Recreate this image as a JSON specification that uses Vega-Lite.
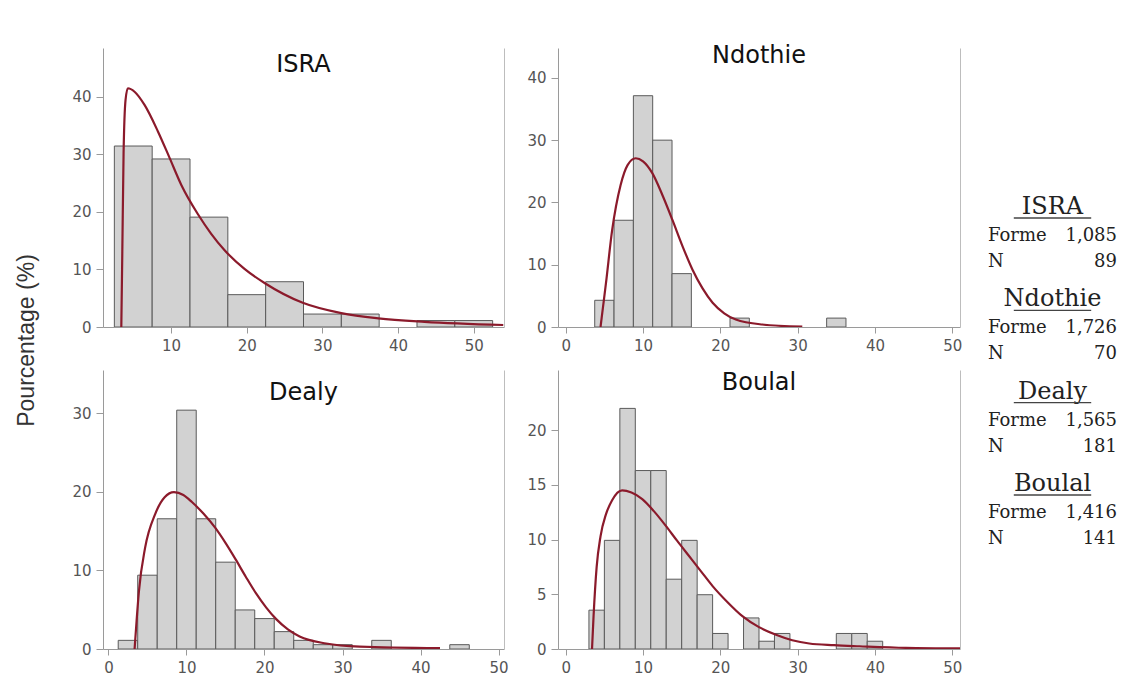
{
  "$schema": "https://vega.github.io/schema/vega-lite/v6.json",
  "background": "white",
  "padding": {"left": 15, "top": 44, "right": 5, "bottom": 5},
  "config": {
    "view": {"stroke": null},
    "axis": {"grid": false, "domainColor": "#9a9a9a", "tickColor": "#9a9a9a", "labelColor": "#555555", "labelFont": "DejaVu Sans", "labelFontSize": 15, "tickSize": 6, "labelPadding": 5, "title": null},
    "title": {"font": "DejaVu Sans", "fontSize": 24, "fontWeight": "normal", "color": "#111111", "baseline": "alphabetic", "anchor": "middle"}
  },
  "datasets": {
    "bars": [
      {"site": "ISRA", "b0": 2.5, "b1": 7.5, "pct": 31.46},
      {"site": "ISRA", "b0": 7.5, "b1": 12.5, "pct": 29.21},
      {"site": "ISRA", "b0": 12.5, "b1": 17.5, "pct": 19.10},
      {"site": "ISRA", "b0": 17.5, "b1": 22.5, "pct": 5.62},
      {"site": "ISRA", "b0": 22.5, "b1": 27.5, "pct": 7.87},
      {"site": "ISRA", "b0": 27.5, "b1": 32.5, "pct": 2.25},
      {"site": "ISRA", "b0": 32.5, "b1": 37.5, "pct": 2.25},
      {"site": "ISRA", "b0": 42.5, "b1": 47.5, "pct": 1.12},
      {"site": "ISRA", "b0": 47.5, "b1": 52.5, "pct": 1.12},
      {"site": "Ndothie", "b0": 3.75, "b1": 6.25, "pct": 4.29},
      {"site": "Ndothie", "b0": 6.25, "b1": 8.75, "pct": 17.14},
      {"site": "Ndothie", "b0": 8.75, "b1": 11.25, "pct": 37.14},
      {"site": "Ndothie", "b0": 11.25, "b1": 13.75, "pct": 30.0},
      {"site": "Ndothie", "b0": 13.75, "b1": 16.25, "pct": 8.57},
      {"site": "Ndothie", "b0": 21.25, "b1": 23.75, "pct": 1.43},
      {"site": "Ndothie", "b0": 33.75, "b1": 36.25, "pct": 1.43},
      {"site": "Dealy", "b0": 1.25, "b1": 3.75, "pct": 1.10},
      {"site": "Dealy", "b0": 3.75, "b1": 6.25, "pct": 9.39},
      {"site": "Dealy", "b0": 6.25, "b1": 8.75, "pct": 16.57},
      {"site": "Dealy", "b0": 8.75, "b1": 11.25, "pct": 30.39},
      {"site": "Dealy", "b0": 11.25, "b1": 13.75, "pct": 16.57},
      {"site": "Dealy", "b0": 13.75, "b1": 16.25, "pct": 11.05},
      {"site": "Dealy", "b0": 16.25, "b1": 18.75, "pct": 4.97},
      {"site": "Dealy", "b0": 18.75, "b1": 21.25, "pct": 3.87},
      {"site": "Dealy", "b0": 21.25, "b1": 23.75, "pct": 2.21},
      {"site": "Dealy", "b0": 23.75, "b1": 26.25, "pct": 1.10},
      {"site": "Dealy", "b0": 26.25, "b1": 28.75, "pct": 0.55},
      {"site": "Dealy", "b0": 28.75, "b1": 31.25, "pct": 0.55},
      {"site": "Dealy", "b0": 33.75, "b1": 36.25, "pct": 1.10},
      {"site": "Dealy", "b0": 43.75, "b1": 46.25, "pct": 0.55},
      {"site": "Boulal", "b0": 3, "b1": 5, "pct": 3.55},
      {"site": "Boulal", "b0": 5, "b1": 7, "pct": 9.93},
      {"site": "Boulal", "b0": 7, "b1": 9, "pct": 21.99},
      {"site": "Boulal", "b0": 9, "b1": 11, "pct": 16.31},
      {"site": "Boulal", "b0": 11, "b1": 13, "pct": 16.31},
      {"site": "Boulal", "b0": 13, "b1": 15, "pct": 6.38},
      {"site": "Boulal", "b0": 15, "b1": 17, "pct": 9.93},
      {"site": "Boulal", "b0": 17, "b1": 19, "pct": 4.96},
      {"site": "Boulal", "b0": 19, "b1": 21, "pct": 1.42},
      {"site": "Boulal", "b0": 23, "b1": 25, "pct": 2.84},
      {"site": "Boulal", "b0": 25, "b1": 27, "pct": 0.71},
      {"site": "Boulal", "b0": 27, "b1": 29, "pct": 1.42},
      {"site": "Boulal", "b0": 35, "b1": 37, "pct": 1.42},
      {"site": "Boulal", "b0": 37, "b1": 39, "pct": 1.42},
      {"site": "Boulal", "b0": 39, "b1": 41, "pct": 0.71}
    ],
    "curves": [
      {"site": "ISRA", "x": 3.42, "y": 0},
      {"site": "ISRA", "x": 3.55, "y": 12.8},
      {"site": "ISRA", "x": 3.72, "y": 30.2},
      {"site": "ISRA", "x": 3.98, "y": 39.5},
      {"site": "ISRA", "x": 4.29, "y": 41.5},
      {"site": "ISRA", "x": 5.17, "y": 40.9},
      {"site": "ISRA", "x": 6.49, "y": 38.6},
      {"site": "ISRA", "x": 8.26, "y": 34.0},
      {"site": "ISRA", "x": 9.8, "y": 29.4},
      {"site": "ISRA", "x": 11.35, "y": 24.7},
      {"site": "ISRA", "x": 13.55, "y": 19.6},
      {"site": "ISRA", "x": 15.3, "y": 16.2},
      {"site": "ISRA", "x": 17.1, "y": 13.3},
      {"site": "ISRA", "x": 19.7, "y": 10.1},
      {"site": "ISRA", "x": 22.4, "y": 7.6},
      {"site": "ISRA", "x": 27.4, "y": 4.2},
      {"site": "ISRA", "x": 32.5, "y": 2.4},
      {"site": "ISRA", "x": 37.4, "y": 1.5},
      {"site": "ISRA", "x": 43.5, "y": 0.9},
      {"site": "ISRA", "x": 53.9, "y": 0.35},
      {"site": "Ndothie", "x": 4.5, "y": 0},
      {"site": "Ndothie", "x": 4.8, "y": 3.0},
      {"site": "Ndothie", "x": 5.2, "y": 7.0},
      {"site": "Ndothie", "x": 6.0, "y": 15.5},
      {"site": "Ndothie", "x": 7.1, "y": 22.8},
      {"site": "Ndothie", "x": 8.0, "y": 26.0},
      {"site": "Ndothie", "x": 9.05, "y": 27.1},
      {"site": "Ndothie", "x": 10.0, "y": 26.6},
      {"site": "Ndothie", "x": 11.2, "y": 24.7},
      {"site": "Ndothie", "x": 12.5, "y": 21.2},
      {"site": "Ndothie", "x": 13.8, "y": 17.2},
      {"site": "Ndothie", "x": 15.1, "y": 13.0},
      {"site": "Ndothie", "x": 16.4, "y": 9.2},
      {"site": "Ndothie", "x": 17.7, "y": 6.2},
      {"site": "Ndothie", "x": 19.0, "y": 3.9},
      {"site": "Ndothie", "x": 20.5, "y": 2.2},
      {"site": "Ndothie", "x": 22.0, "y": 1.2},
      {"site": "Ndothie", "x": 25.4, "y": 0.4},
      {"site": "Ndothie", "x": 30.6, "y": 0.05},
      {"site": "Dealy", "x": 3.35, "y": 0},
      {"site": "Dealy", "x": 3.6, "y": 3.5},
      {"site": "Dealy", "x": 3.9, "y": 7.3},
      {"site": "Dealy", "x": 4.7, "y": 12.9},
      {"site": "Dealy", "x": 6.0, "y": 17.2},
      {"site": "Dealy", "x": 7.2, "y": 19.3},
      {"site": "Dealy", "x": 8.4, "y": 19.95},
      {"site": "Dealy", "x": 9.6, "y": 19.6},
      {"site": "Dealy", "x": 10.7, "y": 18.7},
      {"site": "Dealy", "x": 12.2, "y": 17.2},
      {"site": "Dealy", "x": 13.7, "y": 15.4},
      {"site": "Dealy", "x": 15.0, "y": 13.5},
      {"site": "Dealy", "x": 16.3, "y": 11.4},
      {"site": "Dealy", "x": 17.6, "y": 9.2},
      {"site": "Dealy", "x": 18.9, "y": 7.1},
      {"site": "Dealy", "x": 20.2, "y": 5.3},
      {"site": "Dealy", "x": 21.5, "y": 3.8},
      {"site": "Dealy", "x": 23.0, "y": 2.5},
      {"site": "Dealy", "x": 24.5, "y": 1.6},
      {"site": "Dealy", "x": 27.9, "y": 0.7},
      {"site": "Dealy", "x": 32.2, "y": 0.3},
      {"site": "Dealy", "x": 42.5, "y": 0.1},
      {"site": "Boulal", "x": 3.4, "y": 0},
      {"site": "Boulal", "x": 3.6, "y": 3.0},
      {"site": "Boulal", "x": 4.0, "y": 7.5},
      {"site": "Boulal", "x": 4.5, "y": 10.3},
      {"site": "Boulal", "x": 5.2, "y": 12.3},
      {"site": "Boulal", "x": 6.0, "y": 13.6},
      {"site": "Boulal", "x": 7.3, "y": 14.5},
      {"site": "Boulal", "x": 8.5, "y": 14.3},
      {"site": "Boulal", "x": 9.9, "y": 13.7},
      {"site": "Boulal", "x": 11.4, "y": 12.6},
      {"site": "Boulal", "x": 12.9, "y": 11.3},
      {"site": "Boulal", "x": 14.4, "y": 9.9},
      {"site": "Boulal", "x": 15.95, "y": 8.5},
      {"site": "Boulal", "x": 17.5, "y": 7.1},
      {"site": "Boulal", "x": 19.0, "y": 5.75},
      {"site": "Boulal", "x": 20.9, "y": 4.3},
      {"site": "Boulal", "x": 22.85, "y": 3.0},
      {"site": "Boulal", "x": 25.0, "y": 2.0},
      {"site": "Boulal", "x": 27.2, "y": 1.3},
      {"site": "Boulal", "x": 29.3, "y": 0.8},
      {"site": "Boulal", "x": 31.5, "y": 0.5},
      {"site": "Boulal", "x": 34.7, "y": 0.35},
      {"site": "Boulal", "x": 38.0, "y": 0.25},
      {"site": "Boulal", "x": 44.0, "y": 0.1},
      {"site": "Boulal", "x": 51.0, "y": 0.05}
    ],
    "legend": [
      {"site": "ISRA", "forme": "1,085", "n": "89"},
      {"site": "Ndothie", "forme": "1,726", "n": "70"},
      {"site": "Dealy", "forme": "1,565", "n": "181"},
      {"site": "Boulal", "forme": "1,416", "n": "141"}
    ]
  },
  "hconcat": [
    {
      "concat": [
        {
          "width": 401, "height": 279,
          "title": {"text": "ISRA", "offset": -29},
          "layer": [
            {
              "data": {"name": "bars"},
              "transform": [{"filter": "datum.site === 'ISRA'"}],
              "mark": {"type": "bar", "fill": "#d2d2d2", "stroke": "#5a5a5a", "strokeWidth": 1, "clip": true},
              "encoding": {
                "x": {"field": "b0", "type": "quantitative", "scale": {"domain": [1, 54], "nice": false, "zero": false}, "axis": {"values": [10, 20, 30, 40, 50]}},
                "x2": {"field": "b1"},
                "y": {"field": "pct", "type": "quantitative", "scale": {"domain": [0, 48.5], "nice": false}, "axis": {"values": [0, 10, 20, 30, 40], "tickSize": 7, "title": "Pourcentage (%)", "titleX": -77, "titleY": 292, "titleAngle": -90, "titleBaseline": "middle", "titleAlign": "center", "titleFont": "Liberation Sans", "titleFontSize": 23, "titleFontWeight": "normal", "titleColor": "#333333"}},
                "y2": {"datum": 0}
              }
            },
            {
              "data": {"name": "curves"},
              "transform": [{"filter": "datum.site === 'ISRA'"}],
              "mark": {"type": "line", "color": "#8b1a2b", "strokeWidth": 2.2, "interpolate": "monotone", "clip": true},
              "encoding": {
                "x": {"field": "x", "type": "quantitative"},
                "y": {"field": "y", "type": "quantitative", "axis": {"orient": "right", "labels": false, "ticks": false, "title": null, "domainColor": "#bdbdbd"}}
              }
            }
          ],
          "resolve": {"axis": {"y": "independent"}}
        },
        {
          "width": 402, "height": 279,
          "title": {"text": "Ndothie", "offset": -20},
          "layer": [
            {
              "data": {"name": "bars"},
              "transform": [{"filter": "datum.site === 'Ndothie'"}],
              "mark": {"type": "bar", "fill": "#d2d2d2", "stroke": "#5a5a5a", "strokeWidth": 1, "clip": true},
              "encoding": {
                "x": {"field": "b0", "type": "quantitative", "scale": {"domain": [-1, 51], "nice": false, "zero": false}, "axis": {"values": [0, 10, 20, 30, 40, 50]}},
                "x2": {"field": "b1"},
                "y": {"field": "pct", "type": "quantitative", "scale": {"domain": [0, 44.8], "nice": false}, "axis": {"values": [0, 10, 20, 30, 40], "tickSize": 7}},
                "y2": {"datum": 0}
              }
            },
            {
              "data": {"name": "curves"},
              "transform": [{"filter": "datum.site === 'Ndothie'"}],
              "mark": {"type": "line", "color": "#8b1a2b", "strokeWidth": 2.2, "interpolate": "monotone", "clip": true},
              "encoding": {
                "x": {"field": "x", "type": "quantitative"},
                "y": {"field": "y", "type": "quantitative", "axis": {"orient": "right", "labels": false, "ticks": false, "title": null, "domainColor": "#bdbdbd"}}
              }
            }
          ],
          "resolve": {"axis": {"y": "independent"}}
        },
        {
          "width": 401, "height": 279,
          "title": {"text": "Dealy", "offset": -35},
          "layer": [
            {
              "data": {"name": "bars"},
              "transform": [{"filter": "datum.site === 'Dealy'"}],
              "mark": {"type": "bar", "fill": "#d2d2d2", "stroke": "#5a5a5a", "strokeWidth": 1, "clip": true},
              "encoding": {
                "x": {"field": "b0", "type": "quantitative", "scale": {"domain": [-0.7, 50.7], "nice": false, "zero": false}, "axis": {"values": [0, 10, 20, 30, 40, 50]}},
                "x2": {"field": "b1"},
                "y": {"field": "pct", "type": "quantitative", "scale": {"domain": [0, 35.5], "nice": false}, "axis": {"values": [0, 10, 20, 30], "tickSize": 7}},
                "y2": {"datum": 0}
              }
            },
            {
              "data": {"name": "curves"},
              "transform": [{"filter": "datum.site === 'Dealy'"}],
              "mark": {"type": "line", "color": "#8b1a2b", "strokeWidth": 2.2, "interpolate": "monotone", "clip": true},
              "encoding": {
                "x": {"field": "x", "type": "quantitative"},
                "y": {"field": "y", "type": "quantitative", "axis": {"orient": "right", "labels": false, "ticks": false, "title": null, "domainColor": "#bdbdbd"}}
              }
            }
          ],
          "resolve": {"axis": {"y": "independent"}}
        },
        {
          "width": 402, "height": 279,
          "title": {"text": "Boulal", "offset": -25},
          "layer": [
            {
              "data": {"name": "bars"},
              "transform": [{"filter": "datum.site === 'Boulal'"}],
              "mark": {"type": "bar", "fill": "#d2d2d2", "stroke": "#5a5a5a", "strokeWidth": 1, "clip": true},
              "encoding": {
                "x": {"field": "b0", "type": "quantitative", "scale": {"domain": [-1, 51], "nice": false, "zero": false}, "axis": {"values": [0, 10, 20, 30, 40, 50]}},
                "x2": {"field": "b1"},
                "y": {"field": "pct", "type": "quantitative", "scale": {"domain": [0, 25.5], "nice": false}, "axis": {"values": [0, 5, 10, 15, 20], "tickSize": 7}},
                "y2": {"datum": 0}
              }
            },
            {
              "data": {"name": "curves"},
              "transform": [{"filter": "datum.site === 'Boulal'"}],
              "mark": {"type": "line", "color": "#8b1a2b", "strokeWidth": 2.2, "interpolate": "monotone", "clip": true},
              "encoding": {
                "x": {"field": "x", "type": "quantitative"},
                "y": {"field": "y", "type": "quantitative", "axis": {"orient": "right", "labels": false, "ticks": false, "title": null, "domainColor": "#bdbdbd"}}
              }
            }
          ],
          "resolve": {"axis": {"y": "independent"}}
        }
      ],
      "columns": 2,
      "spacing": {"row": 43, "column": 54},
      "bounds": "flush"
    },
    {
      "width": 129, "height": 500,
      "data": {"name": "legend"},
      "encoding": {
        "y": {"field": "site", "type": "nominal", "sort": ["ISRA", "Ndothie", "Dealy", "Boulal"], "scale": {"type": "point", "range": [159, 436], "padding": 0}, "axis": null}
      },
      "layer": [
        {
          "mark": {"type": "text", "font": "DejaVu Serif", "fontSize": 24, "align": "center", "baseline": "middle", "color": "#222222"},
          "encoding": {"x": {"datum": 0.5, "type": "quantitative", "scale": {"domain": [0, 1]}, "axis": null}, "text": {"field": "site"}}
        },
        {
          "mark": {"type": "rule", "color": "#444444", "strokeWidth": 1.3, "yOffset": 11},
          "encoding": {"x": {"datum": 0.2, "type": "quantitative"}, "x2": {"datum": 0.8}}
        },
        {
          "mark": {"type": "text", "font": "DejaVu Serif", "fontSize": 18, "align": "left", "baseline": "middle", "dy": 29, "color": "#222222"},
          "encoding": {"x": {"datum": 0, "type": "quantitative"}, "text": {"value": "Forme"}}
        },
        {
          "mark": {"type": "text", "font": "DejaVu Serif", "fontSize": 18, "align": "right", "baseline": "middle", "dy": 29, "color": "#222222"},
          "encoding": {"x": {"datum": 1, "type": "quantitative"}, "text": {"field": "forme"}}
        },
        {
          "mark": {"type": "text", "font": "DejaVu Serif", "fontSize": 18, "align": "left", "baseline": "middle", "dy": 55, "color": "#222222"},
          "encoding": {"x": {"datum": 0, "type": "quantitative"}, "text": {"value": "N"}}
        },
        {
          "mark": {"type": "text", "font": "DejaVu Serif", "fontSize": 18, "align": "right", "baseline": "middle", "dy": 55, "color": "#222222"},
          "encoding": {"x": {"datum": 1, "type": "quantitative"}, "text": {"field": "n"}}
        }
      ]
    }
  ],
  "spacing": 26
}
